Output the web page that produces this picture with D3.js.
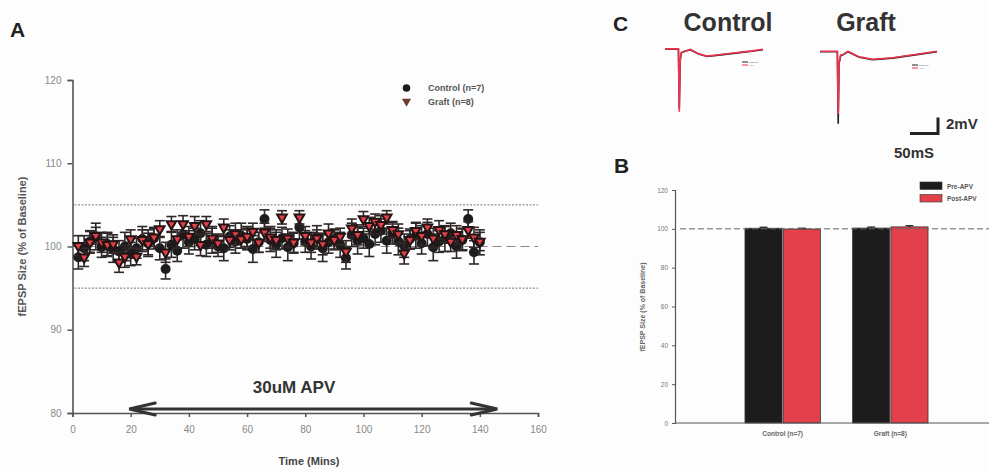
<!DOCTYPE html>
<html><head><meta charset="utf-8">
<script src="https://cdn.jsdelivr.net/npm/d3@7"></script>
<style>
html,body{margin:0;padding:0;background:#fdfdfd;}
svg{display:block;font-family:"Liberation Sans",Arial,sans-serif;}
</style></head>
<body>
<svg id="chart" width="989" height="472"></svg>
<script>
// ---------- Panel A data ----------
const timeMins = [2,4,6,8,10,12,14,16,18,20,22,24,26,28,30,32,34,36,38,40,
  42,44,46,48,50,52,54,56,58,60,62,64,66,68,70,72,74,76,78,80,
  82,84,86,88,90,92,94,96,98,100,102,104,106,108,110,112,114,116,118,120,
  122,124,126,128,130,132,134,136,138,140];
const controlMean = [98.7,99.8,100.6,101.2,99.9,100.3,99.6,99.4,100.0,99.1,
  99.8,100.9,100.4,101.0,99.8,97.3,100.2,99.5,101.4,100.5,
  100.9,101.6,100.2,100.8,100.0,99.8,101.2,100.6,101.3,100.9,
  99.7,100.5,103.3,100.8,100.2,101.0,99.9,100.4,102.3,100.6,
  100.0,101.1,99.8,100.5,100.9,100.2,98.6,101.4,100.7,101.0,
  100.3,101.5,101.9,100.7,101.6,100.6,100.1,100.9,101.3,100.4,
  101.5,99.9,100.6,100.9,101.6,100.0,100.8,103.3,99.3,100.5];
const controlSem = [1.4,1.5,1.3,1.6,1.2,1.4,1.5,1.3,1.7,1.4,
  1.2,1.5,1.6,1.3,1.4,1.2,1.5,1.3,1.6,1.4,
  1.3,1.5,1.4,1.6,1.2,1.5,1.3,1.4,1.5,1.3,
  1.6,1.2,1.1,1.4,1.5,1.3,1.6,1.2,1.4,1.3,
  1.5,1.4,1.6,1.3,1.2,1.5,1.3,1.4,1.6,1.2,
  1.5,1.3,1.4,1.5,1.3,1.6,1.4,1.2,1.5,1.3,
  1.4,1.6,1.3,1.5,1.2,1.4,1.3,1.1,1.4,1.5];
const graftMean = [100.1,98.7,100.5,101.3,100.5,100.2,100.3,98.1,98.8,100.9,
  98.8,100.8,100.3,101.1,102.1,99.3,102.7,100.9,102.7,101.2,
  102.5,100.2,102.7,101.0,100.4,102.3,100.8,101.5,100.9,101.2,
  101.8,100.5,101.7,101.1,100.8,103.5,101.0,100.5,103.5,101.3,
  100.5,101.0,100.3,101.6,100.8,101.2,99.4,102.2,101.4,103.3,
  102.5,103.0,102.6,103.5,102.0,101.5,99.2,100.8,101.9,101.3,
  102.3,101.0,102.0,101.5,100.6,101.4,100.9,102.0,101.1,100.6];
const graftSem = [1.2,1.1,1.3,1.0,1.2,1.4,1.1,1.2,1.3,1.1,
  1.0,1.2,1.3,1.1,1.0,1.2,0.9,1.1,1.0,1.2,
  1.1,1.3,0.9,1.2,1.1,1.0,1.2,1.3,1.1,1.2,
  1.0,1.2,1.1,1.3,1.2,0.8,1.1,1.2,0.8,1.1,
  1.2,1.0,1.3,1.1,1.2,1.0,1.3,1.1,1.2,0.9,
  1.0,0.9,1.1,0.8,1.0,1.2,1.3,1.1,1.0,1.2,
  1.0,1.2,1.1,1.0,1.2,1.1,1.3,1.0,1.2,1.1];
const xTicksA = [0,20,40,60,80,100,120,140,160];
const yTicksA = [80,90,100,110,120];
const guideLevels = [95,105];
const baselineLevel = 100;
const apvSpan = [19.5,146];
const apvLabel = "30uM APV";
const seriesNamesA = ["Control (n=7)","Graft (n=8)"];

// ---------- Panel B data ----------
const groupsB = ["Control (n=7)","Graft (n=8)"];
const conditionsB = ["Pre-APV","Post-APV"];
const preApvMean = [100.3,100.4];
const postApvMean = [99.9,101.0];
const preApvSem = [0.5,0.5];
const postApvSem = [0.4,0.6];
const yTicksB = [0,20,40,60,80,100,120];

// ---------- Panel C data (ms, mV) ----------
const ctrlTraceBaseline = [[0,0],[24,0],[25.5,-7.4],[27,-1.5],[29,-0.5],[33,-0.3],[45,-0.05],[60,-0.6],[75,-0.9],[100,-0.7],[130,-0.45],[155,-0.25],[175,-0.05]];
const ctrlTraceApv = [[0,0.05],[24,0.05],[25.5,-7.8],[27,-1.4],[29,-0.4],[33,-0.35],[45,0],[60,-0.55],[75,-0.85],[100,-0.65],[130,-0.4],[155,-0.2],[175,0]];
const graftTraceBaseline = [[0,0],[31,0],[32.5,-9.0],[34,-1.5],[37,-0.5],[41,-0.4],[50,0],[70,-0.7],[94,-1.0],[130,-0.8],[170,-0.4],[209,0]];
const graftTraceApv = [[0,0.05],[31,0.05],[32.5,-7.8],[34,-1.3],[37,-0.4],[41,-0.35],[50,0.05],[70,-0.65],[94,-0.95],[130,-0.75],[170,-0.35],[209,0.05]];
const scaleBarMs = 50, scaleBarMv = 2;

const svg = d3.select("#chart");
const axisCol = "#555", red = "#e2404a", dark = "#1c1c1c";

// ================= PANEL A =================
const xA = d3.scaleLinear().domain([0,160]).range([72.5,538]);
const yA = d3.scaleLinear().domain([80,120]).range([413,80]);
svg.append("text").attr("x",10).attr("y",37).text("A")
  .attr("font-size",21).attr("font-weight","bold").attr("fill","#222");

const gA = svg.append("g");
gA.selectAll(".guide").data(guideLevels).join("line")
  .attr("x1",xA(0)+2).attr("x2",xA(160)).attr("y1",d=>yA(d)).attr("y2",d=>yA(d))
  .attr("stroke","#777").attr("stroke-width",1).attr("stroke-dasharray","2,1.5");
gA.append("line").attr("x1",xA(0)).attr("x2",xA(160)).attr("y1",yA(baselineLevel)).attr("y2",yA(baselineLevel))
  .attr("stroke","#888").attr("stroke-width",1).attr("stroke-dasharray","9,5");

const axA = gA.append("g").attr("transform",`translate(0,${yA(80)})`)
  .call(d3.axisBottom(xA).tickValues(xTicksA).tickSize(4).tickPadding(9));
const ayA = gA.append("g").attr("transform",`translate(${xA(0)},0)`)
  .call(d3.axisLeft(yA).tickValues(yTicksA).tickSize(5).tickPadding(6));
[axA,ayA].forEach(a=>{
  a.select(".domain").attr("stroke",axisCol).attr("stroke-width",1.6);
  a.selectAll(".tick line").attr("stroke",axisCol).attr("stroke-width",1.5);
  a.selectAll(".tick text").attr("fill","#888").attr("font-size",10).attr("font-family","Liberation Sans, Arial");
});
gA.append("text").attr("x",309).attr("y",465).attr("text-anchor","middle")
  .attr("font-size",11).attr("font-weight","bold").attr("fill","#444").text("Time (Mins)");
gA.append("text").attr("transform",`translate(26,${yA(100)}) rotate(-90)`).attr("text-anchor","middle")
  .attr("font-size",11).attr("font-weight","bold").attr("fill","#555").text("fEPSP Size (% of Baseline)");

const ctrlData = timeMins.map((t,i)=>({t,m:controlMean[i],s:controlSem[i]}));
const graftData = timeMins.map((t,i)=>({t,m:graftMean[i],s:graftSem[i]}));
function errBars(data, col){
  const g = gA.append("g").attr("stroke",col).attr("stroke-width",1.6);
  data.forEach(d=>{
    const x = xA(d.t);
    g.append("line").attr("x1",x).attr("x2",x).attr("y1",yA(d.m+d.s)).attr("y2",yA(d.m-d.s));
    g.append("line").attr("x1",x-5).attr("x2",x+5).attr("y1",yA(d.m+d.s)).attr("y2",yA(d.m+d.s));
    g.append("line").attr("x1",x-5).attr("x2",x+5).attr("y1",yA(d.m-d.s)).attr("y2",yA(d.m-d.s));
  });
}
errBars(ctrlData,"#2a2a2a");
gA.append("g").selectAll("circle").data(ctrlData).join("circle")
  .attr("cx",d=>xA(d.t)).attr("cy",d=>yA(d.m)).attr("r",5).attr("fill",dark);
errBars(graftData,"#332828");
const tri = d3.symbol().type(d3.symbolTriangle).size(40);
gA.append("g").selectAll("path").data(graftData).join("path")
  .attr("d",tri).attr("transform",d=>`translate(${xA(d.t)},${yA(d.m)}) rotate(180)`)
  .attr("fill",red).attr("stroke","#241414").attr("stroke-width",2);

const legA = gA.append("g");
legA.append("circle").attr("cx",406.5).attr("cy",88).attr("r",3.8).attr("fill",dark);
legA.append("path").attr("d",d3.symbol().type(d3.symbolTriangle).size(36))
  .attr("transform","translate(406.5,101.5) rotate(180)").attr("fill","#6e3b33");
seriesNamesA.forEach((n,i)=>legA.append("text").attr("x",428).attr("y",91+i*13.5)
  .attr("font-size",9).attr("font-weight","bold").attr("fill","#555").text(n));

const ay = 409;
const arrowG = gA.append("g").attr("stroke","#333").attr("fill","none").attr("stroke-linecap","round");
arrowG.append("line").attr("x1",xA(apvSpan[0])+3).attr("x2",xA(apvSpan[1])-3).attr("y1",ay).attr("y2",ay).attr("stroke-width",3.2);
arrowG.append("path").attr("d",`M${xA(apvSpan[0])+26},${ay-6} L${xA(apvSpan[0])},${ay} L${xA(apvSpan[0])+26},${ay+6}`).attr("stroke-width",3);
arrowG.append("path").attr("d",`M${xA(apvSpan[1])-26},${ay-6} L${xA(apvSpan[1])},${ay} L${xA(apvSpan[1])-26},${ay+6}`).attr("stroke-width",3);
gA.append("text").attr("x",294).attr("y",393).attr("text-anchor","middle")
  .attr("font-size",17).attr("font-weight","bold").attr("fill","#333").text(apvLabel);

// ================= PANEL B =================
const yB = d3.scaleLinear().domain([0,120]).range([423,190]);
const xB = d3.scaleBand().domain(groupsB).range([675,998]).paddingOuter(0.65).paddingInner(0.3);
const xInner = d3.scaleBand().domain(conditionsB).range([0,xB.bandwidth()]).paddingInner(0.03);
const colB = d3.scaleOrdinal().domain(conditionsB).range([dark,red]);
svg.append("text").attr("x",614).attr("y",173).text("B")
  .attr("font-size",21).attr("font-weight","bold").attr("fill","#222");
const gB = svg.append("g");
const barsData = [];
groupsB.forEach((g,i)=>{
  barsData.push({g,c:"Pre-APV",m:preApvMean[i],s:preApvSem[i]});
  barsData.push({g,c:"Post-APV",m:postApvMean[i],s:postApvSem[i]});
});
gB.selectAll("rect").data(barsData).join("rect")
  .attr("x",d=>xB(d.g)+xInner(d.c)).attr("width",xInner.bandwidth())
  .attr("y",d=>yB(d.m)).attr("height",d=>yB(0)-yB(d.m))
  .attr("fill",d=>colB(d.c)).attr("stroke","#333").attr("stroke-width",0.8);
barsData.forEach(d=>{
  const cx = xB(d.g)+xInner(d.c)+xInner.bandwidth()/2;
  gB.append("line").attr("x1",cx).attr("x2",cx).attr("y1",yB(d.m)).attr("y2",yB(d.m+d.s)).attr("stroke","#222").attr("stroke-width",1.3);
  gB.append("line").attr("x1",cx-4).attr("x2",cx+4).attr("y1",yB(d.m+d.s)).attr("y2",yB(d.m+d.s)).attr("stroke","#222").attr("stroke-width",1.3);
});
gB.append("line").attr("x1",680).attr("x2",989).attr("y1",yB(100)).attr("y2",yB(100))
  .attr("stroke","#666").attr("stroke-width",1).attr("stroke-dasharray","6,3");
const ayB = gB.append("g").attr("transform","translate(675,0)")
  .call(d3.axisLeft(yB).tickValues(yTicksB).tickSize(3).tickPadding(4));
ayB.select(".domain").attr("stroke",axisCol).attr("stroke-width",1.2);
ayB.selectAll(".tick line").attr("stroke",axisCol);
ayB.selectAll(".tick text").attr("fill","#777").attr("font-size",6.5);
gB.append("line").attr("x1",675).attr("x2",989).attr("y1",yB(0)).attr("y2",yB(0)).attr("stroke",axisCol).attr("stroke-width",1.2);
gB.selectAll(".cat").data(groupsB).join("text")
  .attr("x",d=>xB(d)+xB.bandwidth()/2).attr("y",436).attr("text-anchor","middle")
  .attr("font-size",6.5).attr("font-weight","bold").attr("fill","#666").text(d=>d);
gB.append("text").attr("transform","translate(645,307) rotate(-90)").attr("text-anchor","middle")
  .attr("font-size",7).attr("font-weight","bold").attr("fill","#666").text("fEPSP Size (% of Baseline)");
conditionsB.forEach((c,i)=>{
  gB.append("rect").attr("x",920).attr("y",182+i*12.5).attr("width",22).attr("height",7.5).attr("fill",colB(c)).attr("stroke","#333").attr("stroke-width",0.6);
  gB.append("text").attr("x",947).attr("y",188.5+i*12.5).attr("font-size",6.5).attr("font-weight","bold").attr("fill","#555").text(c);
});

// ================= PANEL C =================
svg.append("text").attr("x",613).attr("y",31).text("C")
  .attr("font-size",21).attr("font-weight","bold").attr("fill","#222");
svg.append("text").attr("x",728).attr("y",31).attr("text-anchor","middle").text("Control")
  .attr("font-size",25).attr("font-weight","bold").attr("fill","#333");
svg.append("text").attr("x",866).attr("y",31).attr("text-anchor","middle").text("Graft")
  .attr("font-size",25).attr("font-weight","bold").attr("fill","#333");
const pxPerMs = 0.56, pxPerMv = 8;
function drawTraces(x0, y0, base, apv, legX, legY){
  const xs = d3.scaleLinear().domain([0,1]).range([x0, x0+pxPerMs]);
  const ys = d3.scaleLinear().domain([0,1]).range([y0, y0-pxPerMv]);
  const line = d3.line().x(d=>xs(d[0])).y(d=>ys(d[1]));
  svg.append("path").attr("d",line(base)).attr("fill","none").attr("stroke","#222").attr("stroke-width",1.6);
  svg.append("path").attr("d",line(apv)).attr("fill","none").attr("stroke","#ee3350").attr("stroke-width",1.6);
  svg.append("line").attr("x1",legX).attr("x2",legX+6).attr("y1",legY).attr("y2",legY).attr("stroke","#222").attr("stroke-width",1);
  svg.append("line").attr("x1",legX).attr("x2",legX+6).attr("y1",legY+3).attr("y2",legY+3).attr("stroke","#ee3350").attr("stroke-width",1);
  svg.append("text").attr("x",legX+7).attr("y",legY+1).attr("font-size",2.5).attr("fill","#666").text("Baseline");
  svg.append("text").attr("x",legX+7).attr("y",legY+4).attr("font-size",2.5).attr("fill","#666").text("APV");
}
drawTraces(665,49.3,ctrlTraceBaseline,ctrlTraceApv,742,62);
drawTraces(820,51.7,graftTraceBaseline,graftTraceApv,912,65);
const sbX = 938, sbY = 133.5;
svg.append("path").attr("d",`M${sbX-scaleBarMs*pxPerMs},${sbY} L${sbX},${sbY} L${sbX},${sbY-scaleBarMv*pxPerMv}`)
  .attr("fill","none").attr("stroke","#222").attr("stroke-width",3);
svg.append("text").attr("x",946).attr("y",129).text("2mV").attr("font-size",15).attr("font-weight","bold").attr("fill","#333");
svg.append("text").attr("x",894).attr("y",158).text("50mS").attr("font-size",15).attr("font-weight","bold").attr("fill","#333");
</script>
</body></html>
